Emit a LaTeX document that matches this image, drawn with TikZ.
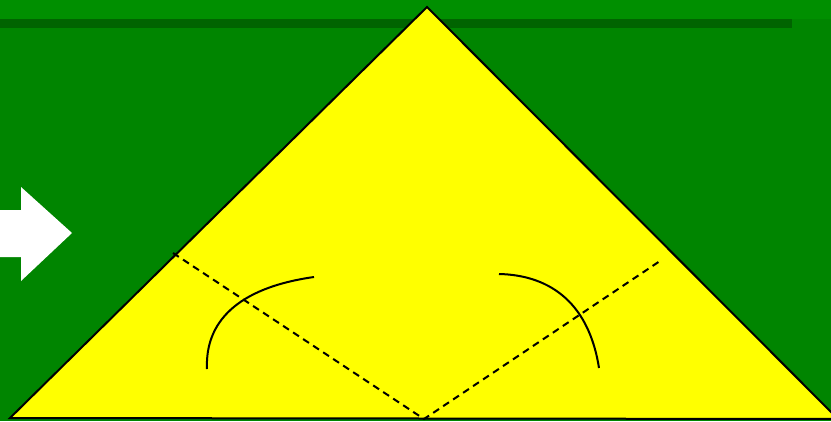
\documentclass[tikz,border=0pt]{standalone}
\begin{document}
\begin{tikzpicture}[x=1pt,y=-1pt,
  fold/.style={draw=black,line width=2pt,dash pattern=on 7pt off 5pt},
  crease/.style={draw=black,line width=2pt},
  edge/.style={draw=black,line width=2pt,line join=miter}]
\definecolor{gtop}{RGB}{0,143,0}
\definecolor{gmain}{RGB}{0,133,0}
\definecolor{gband}{RGB}{0,100,0}
\definecolor{yel}{RGB}{255,255,0}
\useasboundingbox (0,0) rectangle (831,421);
\fill[gmain] (0,0) rectangle (831,421);
\fill[gtop] (0,0) rectangle (831,19);
\fill[gband] (0,19) rectangle (792,28);
% white arrow
\fill[white] (0,210) -- (21,210) -- (21,187) -- (72,233) -- (21,281) -- (21,257) -- (0,257) -- cycle;
% triangle
\coordinate (apex) at (427,7);
\coordinate (bl) at (10,418);
\coordinate (br) at (838,419);
\coordinate (bm) at (424,419);
\coordinate (dl) at (173,253);
\coordinate (dr) at (660,261);
\path[fill=yel,edge] (apex) -- (br) -- (bl) -- cycle;
\draw[fold] (dl) -- (bm) -- (dr);
\draw[crease] (207,369) .. controls (205,323) and (236,288) .. (314,277);
\draw[crease] (499,274) .. controls (545,275) and (588,298) .. (599,368);
\end{tikzpicture}
\end{document}
